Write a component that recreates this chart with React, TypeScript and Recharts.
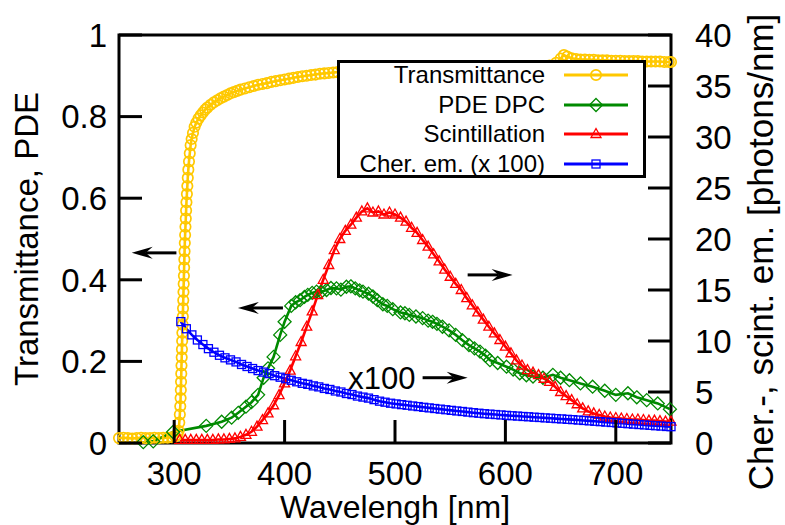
import React from "react";
import {
  LineChart,
  Line,
  XAxis,
  YAxis,
  ReferenceArea,
  ReferenceLine,
  Legend,
} from "recharts";

const FONT = '"Liberation Sans", Arial, Helvetica, sans-serif';
const TICK_LEN = 23;

const X_TICKS = [300, 400, 500, 600, 700];
const LEFT_TICKS = [0, 0.2, 0.4, 0.6, 0.8, 1];
const RIGHT_TICKS = [0, 5, 10, 15, 20, 25, 30, 35, 40];

// [wavelength nm, transmittance]
const transmittance: [number, number][] = [
  [250, 0.012], [254, 0.013], [258, 0.012], [262, 0.011], [266, 0.012], [270, 0.013],
  [274, 0.012], [278, 0.012], [282, 0.013], [286, 0.012], [290, 0.013], [294, 0.013],
  [298, 0.014], [301, 0.016], [303, 0.02], [304, 0.03], [304.6, 0.05], [305.1, 0.07],
  [305.5, 0.09], [305.8, 0.11], [306.0, 0.13], [306.2, 0.15], [306.4, 0.17], [306.6, 0.19],
  [306.8, 0.21], [307.0, 0.23], [307.2, 0.25], [307.4, 0.27], [307.6, 0.29], [307.8, 0.31],
  [308.0, 0.33], [308.2, 0.35], [308.4, 0.37], [308.6, 0.39], [308.8, 0.41], [309.0, 0.43],
  [309.2, 0.45], [309.4, 0.47], [309.6, 0.49], [309.9, 0.51], [310.2, 0.53], [310.5, 0.55],
  [310.8, 0.57], [311.1, 0.59], [311.5, 0.61], [311.9, 0.63], [312.3, 0.65], [312.8, 0.67],
  [313.4, 0.69], [314.1, 0.71], [314.9, 0.73], [315.8, 0.745], [317, 0.76], [318.5, 0.775],
  [320, 0.785], [322, 0.795], [324, 0.803], [326, 0.81], [328, 0.817], [330, 0.822],
  [333, 0.829], [336, 0.835], [339, 0.84], [342, 0.845], [345, 0.849], [348, 0.853],
  [351, 0.857], [354, 0.86], [357, 0.863], [360, 0.866], [364, 0.869], [368, 0.872],
  [372, 0.875], [376, 0.878], [380, 0.88], [384, 0.882], [388, 0.885], [392, 0.887],
  [396, 0.889], [400, 0.891], [404, 0.893], [408, 0.895], [412, 0.897], [416, 0.899],
  [420, 0.9], [424, 0.902], [428, 0.903], [432, 0.905], [436, 0.906], [440, 0.907],
  [444, 0.908], [448, 0.909], [456, 0.911], [464, 0.912], [472, 0.913], [480, 0.914],
  [488, 0.915], [496, 0.916], [504, 0.917], [512, 0.917], [520, 0.918], [528, 0.918],
  [536, 0.919], [544, 0.919], [552, 0.92], [560, 0.92], [568, 0.921], [576, 0.921],
  [584, 0.922], [592, 0.922], [600, 0.922], [608, 0.923], [616, 0.923], [624, 0.924],
  [632, 0.924], [640, 0.925], [646, 0.932], [650, 0.942], [653, 0.951], [656, 0.947],
  [660, 0.943], [664, 0.941], [668, 0.94], [672, 0.94], [676, 0.939], [680, 0.939],
  [684, 0.938], [688, 0.938], [692, 0.938], [696, 0.937], [700, 0.937], [704, 0.937],
  [708, 0.936], [712, 0.936], [716, 0.936], [720, 0.936], [724, 0.935], [728, 0.935],
  [732, 0.935], [736, 0.935], [740, 0.935], [744, 0.934], [748, 0.934], [750, 0.934],
];

// [wavelength nm, photon detection efficiency]
const pdeDpc: [number, number][] = [
  [272, 0.002], [281, 0.004], [299, 0.027], [329, 0.042], [343, 0.052], [352, 0.062],
  [358, 0.074], [365, 0.089], [370, 0.1], [376, 0.118], [381, 0.16], [385, 0.183],
  [390, 0.211], [396, 0.265], [400, 0.297], [406, 0.336], [410, 0.345], [414, 0.35],
  [418, 0.358], [421, 0.363], [425, 0.368], [429, 0.371], [433, 0.37], [438, 0.375],
  [442, 0.38], [447, 0.379], [451, 0.376], [456, 0.383], [460, 0.384], [464, 0.379],
  [468, 0.374], [471, 0.371], [476, 0.366], [480, 0.359], [484, 0.35], [489, 0.34],
  [493, 0.336], [498, 0.328], [505, 0.32], [509, 0.318], [513, 0.314], [519, 0.31],
  [525, 0.306], [530, 0.3], [534, 0.297], [538, 0.292], [543, 0.285], [549, 0.276],
  [555, 0.265], [561, 0.252], [567, 0.24], [572, 0.232], [577, 0.224], [582, 0.214],
  [586, 0.203], [593, 0.196], [601, 0.187], [607, 0.18], [613, 0.171], [619, 0.166],
  [625, 0.163], [634, 0.16], [643, 0.167], [650, 0.16], [658, 0.154], [668, 0.146],
  [679, 0.138], [690, 0.128], [700, 0.118], [711, 0.122], [719, 0.112], [728, 0.105],
  [738, 0.097], [749, 0.083],
];

// [wavelength nm, scintillation emission photons/nm]
const scintillation: [number, number][] = [
  [305, 0.3], [310, 0.3], [315, 0.3], [320, 0.3], [325, 0.3], [330, 0.3], [335, 0.3],
  [340, 0.35], [345, 0.35], [350, 0.4], [355, 0.45], [360, 0.6], [365, 0.8], [370, 1.1],
  [375, 1.6], [380, 2.25], [385, 2.9], [390, 3.7], [395, 4.7], [400, 5.85], [405, 7.1],
  [410, 8.5], [415, 9.9], [420, 11.4], [425, 12.9], [430, 14.5], [435, 16.0], [440, 17.45],
  [445, 18.9], [450, 20.0], [455, 20.8], [460, 21.4], [465, 22.1], [470, 22.7], [475, 23.0],
  [480, 22.6], [485, 22.7], [490, 22.4], [495, 22.6], [500, 22.4], [505, 22.1], [510, 21.7],
  [515, 21.1], [520, 20.6], [525, 19.9], [530, 19.25], [535, 18.5], [540, 17.8], [545, 17.0],
  [550, 16.3], [555, 15.6], [560, 15.0], [565, 14.2], [570, 13.5], [575, 12.8], [580, 12.1],
  [585, 11.4], [590, 10.75], [595, 10.1], [600, 9.45], [605, 8.8], [610, 8.1], [615, 7.6],
  [620, 7.15], [625, 6.9], [630, 6.65], [635, 6.3], [640, 6.0], [645, 5.5], [650, 5.0],
  [655, 4.6], [660, 4.2], [665, 3.8], [670, 3.4], [675, 3.1], [680, 2.9], [685, 2.75],
  [690, 2.6], [695, 2.5], [700, 2.45], [705, 2.4], [710, 2.35], [715, 2.3], [720, 2.3],
  [725, 2.25], [730, 2.2], [735, 2.2], [740, 2.15], [745, 2.1], [750, 2.1],
];

// [wavelength nm, Cherenkov emission x 100]
const cherenkov: [number, number][] = [
  [306, 11.9], [311, 11.2], [316, 10.6], [321, 10.1], [326, 9.65], [331, 9.25], [336, 8.9],
  [341, 8.6], [346, 8.35], [351, 8.15], [356, 7.95], [361, 7.7], [366, 7.5], [371, 7.3],
  [376, 7.1], [381, 6.95], [386, 6.8], [391, 6.6], [396, 6.45], [401, 6.3], [406, 6.15],
  [411, 6.0], [416, 5.85], [421, 5.75], [426, 5.6], [431, 5.5], [436, 5.35], [441, 5.25],
  [446, 5.1], [451, 5.0], [456, 4.85], [461, 4.75], [466, 4.6], [471, 4.5], [476, 4.4],
  [481, 4.25], [486, 4.1], [491, 4.0], [496, 3.9], [501, 3.83], [506, 3.76], [511, 3.7],
  [516, 3.63], [521, 3.57], [526, 3.5], [531, 3.44], [536, 3.38], [541, 3.32], [546, 3.26],
  [551, 3.2], [556, 3.14], [561, 3.09], [566, 3.03], [571, 2.97], [576, 2.92], [581, 2.87],
  [586, 2.83], [591, 2.79], [596, 2.75], [601, 2.71], [606, 2.67], [611, 2.64], [616, 2.6],
  [621, 2.57], [626, 2.53], [631, 2.5], [636, 2.46], [641, 2.43], [646, 2.39], [651, 2.36],
  [656, 2.32], [661, 2.29], [666, 2.25], [671, 2.21], [676, 2.17], [681, 2.13], [686, 2.09],
  [691, 2.05], [696, 2.01], [701, 1.97], [706, 1.93], [711, 1.89], [716, 1.85], [721, 1.81],
  [726, 1.77], [731, 1.73], [736, 1.69], [741, 1.66], [746, 1.62], [750, 1.6],
];

type MarkerKind = "circle" | "diamond" | "triangle" | "square";

const SERIES: {
  name: string;
  data: [number, number][];
  color: string;
  marker: MarkerKind;
  axis: "left" | "right";
}[] = [
  { name: "Transmittance", data: transmittance, color: "#ffc800", marker: "circle", axis: "left" },
  { name: "PDE DPC", data: pdeDpc, color: "#008a00", marker: "diamond", axis: "left" },
  { name: "Scintillation", data: scintillation, color: "#ff0000", marker: "triangle", axis: "right" },
  { name: "Cher. em. (x 100)", data: cherenkov, color: "#0000ff", marker: "square", axis: "right" },
];

// annotation arrows, in wavelength / left-axis units
const ARROWS: { from: [number, number]; to: [number, number]; label?: string }[] = [
  { from: [302, 0.466], to: [261.5, 0.466] },
  { from: [398.5, 0.331], to: [357.7, 0.331] },
  { from: [565.8, 0.412], to: [606.5, 0.412] },
  { from: [525, 0.16], to: [565.8, 0.16], label: "x100" },
];

function drawMarker(kind: MarkerKind, color: string, cx: number, cy: number, key?: React.Key) {
  const common = { fill: "none", stroke: color, strokeWidth: 1.3 };
  switch (kind) {
    case "circle":
      return <circle key={key} cx={cx} cy={cy} r={5.2} fill="none" stroke={color} strokeWidth={1.7} />;
    case "diamond":
      return (
        <path
          key={key}
          d={`M${cx},${cy - 6.5}L${cx + 6.5},${cy}L${cx},${cy + 6.5}L${cx - 6.5},${cy}Z`}
          {...common}
        />
      );
    case "triangle":
      return (
        <path
          key={key}
          d={`M${cx},${cy - 5.5}L${cx + 5},${cy + 3.5}L${cx - 5},${cy + 3.5}Z`}
          {...common}
        />
      );
    default:
      return <rect key={key} x={cx - 4} y={cy - 4} width={8} height={8} {...common} />;
  }
}

const dotRenderer = (kind: MarkerKind, color: string) => (p: any) =>
  drawMarker(kind, color, p.cx, p.cy, `${kind}-${p.index}`);

// ticks point into the plot, labels sit outside
const BOTTOM_GAP = 18;

const BottomTick = (p: any) => (
  <g>
    <line x1={p.x} x2={p.x} y1={p.y - BOTTOM_GAP} y2={p.y - BOTTOM_GAP - TICK_LEN} stroke="#000" strokeWidth={3} />
    <text x={p.x} y={p.y} dy="0.72em" textAnchor="middle" fontSize={33} fontFamily={FONT} fill="#000">
      {p.payload.value}
    </text>
  </g>
);

const TopTick = (p: any) => (
  <line x1={p.x} x2={p.x} y1={p.y} y2={p.y + TICK_LEN} stroke="#000" strokeWidth={3} />
);

const LeftTick = (p: any) => (
  <g>
    <line x1={p.x + 12} x2={p.x + 12 + TICK_LEN} y1={p.y} y2={p.y} stroke="#000" strokeWidth={3} />
    <text x={p.x} y={p.y} dy="0.36em" textAnchor="end" fontSize={33} fontFamily={FONT} fill="#000">
      {p.payload.value}
    </text>
  </g>
);

const RightTick = (p: any) => (
  <g>
    <line x1={p.x - 24} x2={p.x - 24 - TICK_LEN} y1={p.y} y2={p.y} stroke="#000" strokeWidth={3} />
    <text x={p.x} y={p.y} dy="0.36em" textAnchor="start" fontSize={33} fontFamily={FONT} fill="#000">
      {p.payload.value}
    </text>
  </g>
);

const leftTitle = (props: any) => {
  const { x, y, height } = props.viewBox;
  const cx = x + 38;
  const cy = y + height / 2;
  return (
    <text x={cx} y={cy} transform={`rotate(-90 ${cx} ${cy})`} textAnchor="middle" fontSize={33} fontFamily={FONT} fill="#000">
      Transmittance, PDE
    </text>
  );
};

const rightTitle = (props: any) => {
  const { x, y, height } = props.viewBox;
  const cx = x + 102;
  const cy = y + height / 2 + 13;
  return (
    <text x={cx} y={cy} transform={`rotate(-90 ${cx} ${cy})`} textAnchor="middle" fontSize={35} fontFamily={FONT} fill="#000">
      Cher.-, scint. em. [photons/nm]
    </text>
  );
};

const bottomTitle = (props: any) => {
  const { x, y, width } = props.viewBox;
  return (
    <text x={x + width / 2} y={y + 75} textAnchor="middle" fontSize={32} fontFamily={FONT} fill="#000">
      Wavelengh [nm]
    </text>
  );
};

const arrowShape = (label?: string) => (p: any) => {
  const { x1, y1, x2, y2 } = p;
  const len = Math.hypot(x2 - x1, y2 - y1);
  const ux = (x2 - x1) / len;
  const uy = (y2 - y1) / len;
  const headLen = 21;
  const halfW = 6;
  const notch = 14;
  const bx = x2 - ux * headLen;
  const by = y2 - uy * headLen;
  const nx = x2 - ux * notch;
  const ny = y2 - uy * notch;
  const head = `M${x2},${y2}L${bx - uy * halfW},${by + ux * halfW}L${nx},${ny}L${bx + uy * halfW},${by - ux * halfW}Z`;
  return (
    <g>
      <line x1={x1} y1={y1} x2={nx} y2={ny} stroke="#000" strokeWidth={3} />
      <path d={head} fill="#000" />
      {label && (
        <text x={x1 - 7} y={y1} dy="0.36em" textAnchor="end" fontSize={31} fontFamily={FONT} fill="#000">
          {label}
        </text>
      )}
    </g>
  );
};

const seriesIndex = (name: string) => SERIES.findIndex((s) => s.name === name);

const renderLegend = (props: any) => {
  const payload = [...(props.payload || [])].sort(
    (a: any, b: any) => seriesIndex(a.value) - seriesIndex(b.value)
  );
  return (
    <div
      style={{
        position: "relative",
        width: 309,
        height: 118,
        boxSizing: "border-box",
        border: "3px solid #000",
        background: "#fff",
        fontFamily: FONT,
        fontSize: 24,
        color: "#000",
      }}
    >
      {payload.map((entry: any, i: number) => {
        const s = SERIES[seriesIndex(entry.value)] || SERIES[i];
        return (
          <div
            key={entry.value}
            style={{ position: "absolute", left: 0, top: -3 + 29.7 * i, height: 30, width: 303, display: "flex", alignItems: "center" }}
          >
            <span style={{ width: 205, textAlign: "right", whiteSpace: "nowrap", lineHeight: "30px" }}>{entry.value}</span>
            <svg width={84} height={30} style={{ marginLeft: 14 }}>
              <line x1={5} x2={69} y1={15} y2={15} stroke={s.color} strokeWidth={3} />
              {drawMarker(s.marker, s.color, 37, 15)}
            </svg>
          </div>
        );
      })}
    </div>
  );
};

export default function App() {
  return (
    <div style={{ position: "absolute", left: 0, top: 0, width: 785, height: 525, background: "#fff" }}>
      <LineChart width={785} height={525} margin={{ top: 35, right: 0, bottom: 0, left: 0 }}>
        <XAxis
          dataKey="wl"
          type="number"
          domain={[250, 750]}
          ticks={X_TICKS}
          interval={0}
          height={82}
          axisLine={false}
          tickLine={false}
          tickSize={0}
          tickMargin={BOTTOM_GAP}
          tick={BottomTick}
          label={{ content: bottomTitle }}
        />
        <XAxis
          xAxisId="top"
          orientation="top"
          type="number"
          domain={[250, 750]}
          ticks={X_TICKS}
          interval={0}
          height={0}
          axisLine={false}
          tickLine={false}
          tickSize={0}
          tickMargin={0}
          tick={TopTick}
        />
        <YAxis
          yAxisId="left"
          type="number"
          domain={[0, 1]}
          ticks={LEFT_TICKS}
          interval={0}
          width={119}
          axisLine={false}
          tickLine={false}
          tickSize={0}
          tickMargin={12}
          tick={LeftTick}
          label={{ content: leftTitle }}
        />
        <YAxis
          yAxisId="right"
          orientation="right"
          type="number"
          domain={[0, 40]}
          ticks={RIGHT_TICKS}
          interval={0}
          width={114}
          axisLine={false}
          tickLine={false}
          tickSize={0}
          tickMargin={24}
          tick={RightTick}
          label={{ content: rightTitle }}
        />
        <ReferenceArea
          yAxisId="left"
          x1={250}
          x2={750}
          y1={0}
          y2={1}
          fill="none"
          fillOpacity={0}
          stroke="#000"
          strokeWidth={3}
        />
        {SERIES.map((s) => (
          <Line
            key={s.name}
            name={s.name}
            yAxisId={s.axis}
            data={s.data.map(([wl, v]) => ({ wl, v }))}
            dataKey="v"
            type="linear"
            stroke={s.color}
            strokeWidth={2.6}
            dot={dotRenderer(s.marker, s.color)}
            activeDot={false}
            isAnimationActive={false}
          />
        ))}
        {ARROWS.map((a, i) => (
          <ReferenceLine
            key={`arrow-${i}`}
            yAxisId="left"
            ifOverflow="visible"
            segment={[
              { x: a.from[0], y: a.from[1] },
              { x: a.to[0], y: a.to[1] },
            ]}
            shape={arrowShape(a.label)}
          />
        ))}
        <Legend
          layout="vertical"
          align="center"
          verticalAlign="middle"
          content={renderLegend}
          wrapperStyle={{ left: 337, top: 60, width: 309, height: 118 }}
        />
      </LineChart>
    </div>
  );
}
